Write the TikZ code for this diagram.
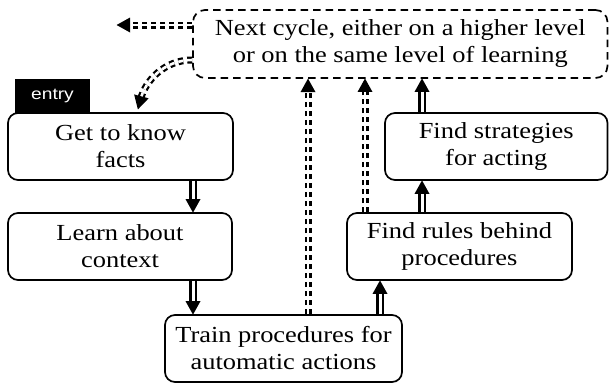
\documentclass[tikz,border=0pt]{standalone}
\usepackage{fontspec}
\setmainfont{Liberation Serif}[FakeStretch=1.15]
\newfontfamily\entryfont{Liberation Sans}[FakeStretch=1.2]
\usetikzlibrary{arrows.meta,calc,decorations.markings}
\begin{document}
\begin{tikzpicture}[x=1pt,y=1pt,
  box/.style={draw, line width=1.7pt, rounded corners=10pt, align=center, inner sep=0pt,
    font=\fontsize{23}{27}\selectfont},
  topbox/.style={box, dash pattern=on 7.5pt off 5pt, rounded corners=12pt},
  entrybox/.style={fill=black, text=white, inner sep=0pt, font=\entryfont\fontsize{16}{18}\selectfont},
  dbl/.style={double, line width=2.3pt, double distance=3pt, shorten >=11pt,
    postaction={decorate, solid},
    decoration={markings, mark=at position 0.999 with {\fill (0.5pt,0) -- (-13pt,7.5pt) -- (-13pt,-7.5pt) -- cycle;}}},
  dbldash/.style={dbl, line width=2.2pt, double distance=2.6pt, dash pattern=on 5pt off 4pt}
]
\useasboundingbox (0,0) rectangle (609,-383);
\node[entrybox, minimum width=75pt, minimum height=34pt] (Entry) at (52.5,-96) {entry};
\node[box, minimum width=225pt, minimum height=67pt] (Get) at (120.5,-146.5) {Get to know\\facts};
\node[box, minimum width=224pt, minimum height=67pt] (Learn) at (120,-246.5) {Learn about\\context};
\node[box, minimum width=237pt, minimum height=67pt] (Train) at (283.5,-348.5) {Train procedures for\\automatic actions};
\node[box, minimum width=225pt, minimum height=67pt] (Rules) at (459.5,-246.5) {Find rules behind\\procedures};
\node[box, minimum width=222.5pt, minimum height=67pt] (Strat) at (496.25,-146.5) {Find strategies\\for acting};
\node[topbox, minimum width=414.5pt, minimum height=68pt] (Top) at (400.25,-44) {Next cycle, either on a higher level\\or on the same level of learning};
\coordinate (xA) at (193,0);
\coordinate (xB) at (380,0);
\coordinate (xC) at (422,0);
\coordinate (xD) at (308,0);
\coordinate (xE) at (365,0);
\coordinate (Lft) at (117,-25);
\coordinate (Crv) at (138,-109);
\coordinate (yC) at (0,-60);
\draw[dbl] (Get.south -| xA) -- (Learn.north -| xA);
\draw[dbl] (Learn.south -| xA) -- (Train.north -| xA);
\draw[dbl] (Train.north -| xB) -- (Rules.south -| xB);
\draw[dbl] (Rules.north -| xC) -- (Strat.south -| xC);
\draw[dbl] (Strat.north -| xC) -- (Top.south -| xC);
\draw[dbldash] (Train.north -| xD) -- (Top.south -| xD);
\draw[dbldash] (Rules.north -| xE) -- (Top.south -| xE);
\draw[dbldash] (Top.west |- Lft) -- (Lft);
\draw[dbldash] (Top.west |- yC) to[out=180, in=75] (Crv);
\end{tikzpicture}
\end{document}
